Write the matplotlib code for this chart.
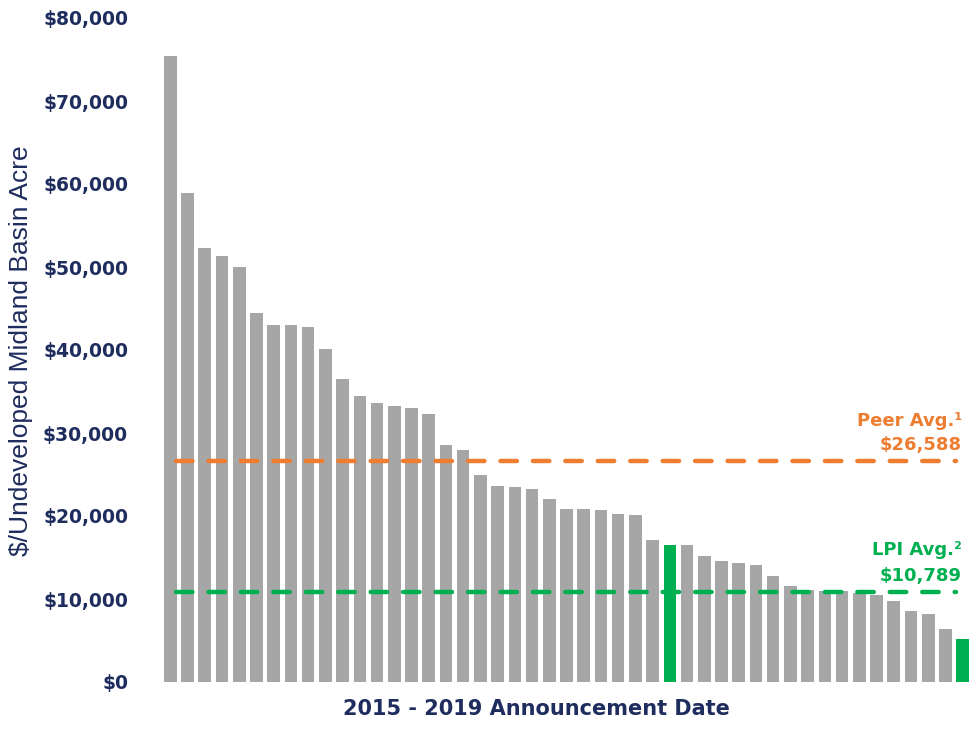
import numpy as np
import matplotlib.pyplot as plt
from matplotlib.ticker import FuncFormatter

# $/undeveloped acre per Midland Basin deal, sorted high to low
deal_values = [75400, 58950, 52300, 51300, 50000, 44500, 43000, 43000, 42800, 40100,
               36500, 34450, 33600, 33300, 33050, 32250, 28500, 27950, 25000, 23650,
               23500, 23300, 22050, 20900, 20900, 20700, 20200, 20100, 17100, 16550,
               16550, 15200, 14600, 14350, 14100, 12800, 11550, 11050, 11000, 10950,
               10700, 10500, 9700, 8600, 8200, 6350, 5200]
lpi_deals = [30, 47]  # 1-based positions of the LPI transactions
peer_avg = 26588
lpi_avg = 10789
y_ticks = [0, 10000, 20000, 30000, 40000, 50000, 60000, 70000, 80000]

navy = '#1F2D5E'
grey = '#A6A6A6'
orange = '#ED7D31'
green = '#00B050'

fig = plt.figure(figsize=(9.76, 7.35), dpi=100)
ax = fig.add_axes([160 / 976, 53 / 735, 813 / 976, 664 / 735])

x = np.arange(len(deal_values))
colors = [green if (i + 1) in lpi_deals else grey for i in x]
ax.bar(x, deal_values, width=0.73, color=colors, zorder=2)

# average lines
for val, col in [(peer_avg, orange), (lpi_avg, green)]:
    line, = ax.plot([0.3, 45.6], [val, val], color=col, lw=3.2, zorder=3,
                    dash_capstyle='round')
    line.set_dashes([3.7, 3.6])

ax.set_xlim(-0.6, 46.6)
ax.set_ylim(0, 80000)
ax.set_yticks(y_ticks)
ax.yaxis.set_major_formatter(FuncFormatter(lambda v, p: '${:,.0f}'.format(v)))
ax.set_xticks([])
ax.tick_params(axis='y', length=0, pad=23)
for lbl in ax.get_yticklabels():
    lbl.set_fontfamily('DejaVu Sans')
    lbl.set_fontweight('bold')
    lbl.set_fontsize(13.5)
    lbl.set_color(navy)
for s in ax.spines.values():
    s.set_visible(False)

ax.text(45.95, 31500, 'Peer Avg.\u00b9', color=orange, fontsize=13, fontweight='bold',
        ha='right', va='center', family='DejaVu Sans')
ax.text(45.95, 28500, '$26,588', color=orange, fontsize=13, fontweight='bold',
        ha='right', va='center', family='DejaVu Sans')
ax.text(45.95, 15950, 'LPI Avg.\u00b2', color=green, fontsize=13, fontweight='bold',
        ha='right', va='center', family='DejaVu Sans')
ax.text(45.95, 12800, '$10,789', color=green, fontsize=13, fontweight='bold',
        ha='right', va='center', family='DejaVu Sans')

fig.text(536 / 976, 1 - 709 / 735, '2015 - 2019 Announcement Date', color=navy,
         fontsize=15, fontweight='bold', ha='center', va='center', family='DejaVu Sans')
fig.text(21 / 976, 1 - 351 / 735, '$/Undeveloped Midland Basin Acre', color=navy,
         fontsize=19, rotation=90, ha='center', va='center', family='Liberation Sans')

fig.savefig('out.png', dpi=100)
